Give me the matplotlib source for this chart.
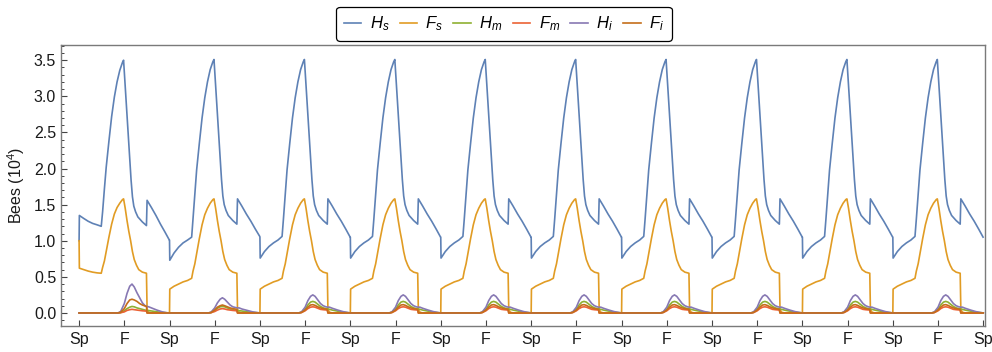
import numpy as np
import matplotlib
matplotlib.use("Agg")
import matplotlib.pyplot as plt

plt.rcParams['font.family'] = ['Liberation Sans', 'DejaVu Sans']
plt.rcParams['mathtext.fontset'] = 'custom'
plt.rcParams['mathtext.rm'] = 'Liberation Sans'
plt.rcParams['mathtext.it'] = 'Liberation Sans:italic'

# time knots within one year (0 = spring, 0.5 = fall)
hs_t = [0.0, 0.003, 0.05, 0.10, 0.15, 0.20, 0.245, 0.26, 0.28, 0.30, 0.33, 0.36, 0.39,
        0.42, 0.45, 0.48, 0.492, 0.51, 0.53, 0.555, 0.575, 0.59, 0.605, 0.625, 0.65,
        0.70, 0.745, 0.752, 0.80, 0.85, 0.90, 0.95, 0.998]
fs_t = [0.0, 0.003, 0.05, 0.10, 0.15, 0.20, 0.245, 0.26, 0.28, 0.30, 0.33, 0.36, 0.39,
        0.42, 0.45, 0.48, 0.492, 0.51, 0.53, 0.55, 0.57, 0.59, 0.61, 0.635, 0.66,
        0.70, 0.745, 0.752, 0.77, 0.80, 0.998]
inf_h_t = [0.0, 0.43, 0.46, 0.50, 0.53, 0.56, 0.585, 0.61, 0.64, 0.67, 0.70, 0.73,
           0.75, 0.77, 0.80, 0.86, 0.92, 0.97, 1.0]
inf_f_t = [0.0, 0.43, 0.46, 0.50, 0.53, 0.56, 0.585, 0.61, 0.64, 0.67, 0.70, 0.745,
           0.752, 1.0]

# healthy hive bees (10^4)
hs_y1 = [1.00, 1.35, 1.31, 1.27, 1.24, 1.22, 1.20, 1.40, 1.72, 2.02, 2.38, 2.72, 2.99,
         3.20, 3.36, 3.47, 3.50, 3.14, 2.74, 2.24, 1.84, 1.61, 1.48, 1.40, 1.33,
         1.26, 1.21, 1.56, 1.46, 1.35, 1.23, 1.12, 1.01]
hs_y2 = [1.01, 0.73, 0.83, 0.91, 0.97, 1.01, 1.05, 1.30, 1.65, 1.98, 2.35, 2.70, 2.98,
         3.20, 3.37, 3.48, 3.51, 3.15, 2.75, 2.25, 1.85, 1.62, 1.50, 1.42, 1.35,
         1.28, 1.23, 1.58, 1.48, 1.37, 1.27, 1.16, 1.06]
hs_typ = [1.05, 0.76, 0.85, 0.92, 0.97, 1.01, 1.06, 1.30, 1.65, 1.98, 2.35, 2.70, 2.98,
          3.20, 3.37, 3.48, 3.51, 3.15, 2.75, 2.25, 1.85, 1.62, 1.50, 1.42, 1.35,
          1.28, 1.23, 1.58, 1.48, 1.37, 1.27, 1.16, 1.05]

# healthy foragers
fs_y1 = [1.0, 0.62, 0.60, 0.58, 0.565, 0.555, 0.55, 0.63, 0.72, 0.85, 1.05, 1.23, 1.37,
         1.46, 1.52, 1.57, 1.58, 1.45, 1.28, 1.13, 1.00, 0.85, 0.74, 0.66, 0.60,
         0.565, 0.55, 0.05, 0.01, 0.0, 0.0]
fs_typ = [0.0, 0.33, 0.37, 0.40, 0.43, 0.45, 0.48, 0.58, 0.68, 0.82, 1.03, 1.22, 1.36,
          1.45, 1.52, 1.57, 1.58, 1.45, 1.28, 1.13, 1.00, 0.85, 0.74, 0.66, 0.60,
          0.565, 0.55, 0.05, 0.01, 0.0, 0.0]

# infected hive bees
hi_y1 = [0, 0, 0.02, 0.13, 0.27, 0.37, 0.40, 0.36, 0.28, 0.21, 0.14, 0.10, 0.09, 0.085,
         0.07, 0.04, 0.015, 0.003, 0]
hi_y2 = [0, 0, 0.012, 0.07, 0.14, 0.19, 0.21, 0.19, 0.15, 0.11, 0.085, 0.075, 0.07, 0.07,
         0.055, 0.035, 0.015, 0.005, 0]
hi_typ = [0, 0, 0.015, 0.08, 0.17, 0.23, 0.25, 0.23, 0.18, 0.13, 0.10, 0.085, 0.08, 0.08,
          0.065, 0.04, 0.018, 0.006, 0]
hm_y1 = [0, 0, 0.005, 0.03, 0.06, 0.08, 0.09, 0.085, 0.07, 0.06, 0.05, 0.04, 0.035, 0.033,
         0.027, 0.016, 0.007, 0.002, 0]
hm_y2 = [0, 0, 0.006, 0.035, 0.065, 0.085, 0.09, 0.085, 0.07, 0.055, 0.045, 0.038, 0.035,
         0.033, 0.027, 0.016, 0.007, 0.002, 0]
hm_typ = [0, 0, 0.01, 0.05, 0.11, 0.15, 0.16, 0.15, 0.12, 0.09, 0.07, 0.06, 0.055, 0.05,
          0.04, 0.025, 0.01, 0.003, 0]

# infected foragers
fi_y1 = [0, 0, 0.01, 0.06, 0.13, 0.18, 0.19, 0.18, 0.16, 0.13, 0.11, 0.09, 0, 0]
fi_y2 = [0, 0, 0.006, 0.04, 0.08, 0.10, 0.11, 0.10, 0.085, 0.07, 0.06, 0.05, 0, 0]
fi_typ = [0, 0, 0.008, 0.04, 0.08, 0.11, 0.115, 0.105, 0.085, 0.07, 0.06, 0.05, 0, 0]
fm_y1 = [0, 0, 0.003, 0.015, 0.035, 0.045, 0.05, 0.045, 0.04, 0.035, 0.03, 0.025, 0, 0]
fm_y2 = [0, 0, 0.004, 0.02, 0.04, 0.055, 0.06, 0.055, 0.045, 0.04, 0.035, 0.03, 0, 0]
fm_typ = [0, 0, 0.005, 0.03, 0.06, 0.08, 0.085, 0.08, 0.065, 0.05, 0.045, 0.04, 0, 0]

n_years = 10
season_labels = ["Sp", "F"]


def by_year(t, first, second, typical):
    years = [first, second] + [typical] * (n_years - 2)
    xs, ys = [], []
    for k, vals in enumerate(years):
        xs.extend(k + np.array(t))
        ys.extend(vals)
    return np.array(xs), np.array(ys)


series = [
    ("$H_s$", "#5E81B5", by_year(hs_t, hs_y1, hs_y2, hs_typ)),
    ("$F_s$", "#E19C24", by_year(fs_t, fs_y1, fs_typ, fs_typ)),
    ("$H_m$", "#8FB032", by_year(inf_h_t, hm_y1, hm_y2, hm_typ)),
    ("$F_m$", "#EB6235", by_year(inf_f_t, fm_y1, fm_y2, fm_typ)),
    ("$H_i$", "#8778B3", by_year(inf_h_t, hi_y1, hi_y2, hi_typ)),
    ("$F_i$", "#C56E1A", by_year(inf_f_t, fi_y1, fi_y2, fi_typ)),
]

fig = plt.figure(figsize=(9.92, 3.52), dpi=100)
ax = fig.add_axes([0.0615, 0.074, 0.9315, 0.798])

for label, color, (x, y) in series:
    ax.plot(x, y, color=color, lw=1.2, label=label)

ax.set_xlim(-0.2, 10.02)
ax.set_ylim(-0.18, 3.71)

xt = np.arange(0, n_years + 0.01, 0.5)
ax.set_xticks(xt)
ax.set_xticklabels([season_labels[i % 2] for i in range(len(xt))])
ax.set_yticks(np.arange(0, 3.51, 0.5))
ax.set_yticklabels([f"{v:.1f}" for v in np.arange(0, 3.51, 0.5)])
ax.set_yticks(np.arange(-0.1, 3.71, 0.1), minor=True)

ax.tick_params(axis="both", which="both", direction="in", colors="#444444",
               labelcolor="#1a1a1a", labelsize=11.5)
ax.tick_params(which="major", length=4.5, width=0.8)
ax.tick_params(which="minor", length=2.5, width=0.7)
ax.tick_params(axis="x", pad=4)
for s in ax.spines.values():
    s.set_color("#7a7a7a")
    s.set_linewidth(1.0)

ax.set_ylabel("Bees (10$^4$)", fontsize=11.5, color="#1a1a1a", labelpad=5)

leg = fig.legend(loc="center", bbox_to_anchor=(0.508, 0.932), ncol=6,
                 fontsize=12, frameon=True, fancybox=True, handlelength=1.05,
                 handletextpad=0.5, columnspacing=0.62, borderpad=0.45,
                 borderaxespad=0.0)
leg.get_frame().set_edgecolor("black")
leg.get_frame().set_linewidth(0.9)
leg.get_frame().set_alpha(1.0)

fig.savefig("out.png", dpi=100)
